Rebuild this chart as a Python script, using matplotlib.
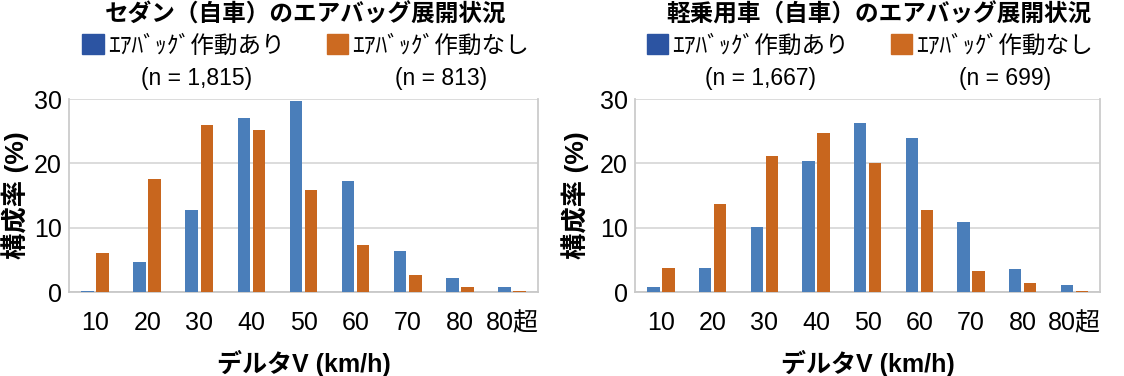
import matplotlib
matplotlib.use("Agg")
import matplotlib.pyplot as plt
import numpy as np

plt.rcParams['font.family'] = ['Liberation Sans', 'Noto Sans CJK JP']

# 区分（デルタV）
kategoriler = ['10', '20', '30', '40', '50', '60', '70', '80', '80超']

# セダン（自車）
sedan_ari = [0.2, 4.6, 12.8, 27.1, 29.7, 17.2, 6.4, 2.1, 0.8]
sedan_nashi = [6.1, 17.5, 25.9, 25.2, 15.8, 7.3, 2.6, 0.7, 0.2]
sedan_n = ['1,815', '813']

# 軽乗用車（自車）
kei_ari = [0.7, 3.8, 10.1, 20.4, 26.2, 24.0, 10.9, 3.5, 1.15]
kei_nashi = [3.7, 13.7, 21.2, 24.7, 20.0, 12.8, 3.3, 1.4, 0.2]
kei_n = ['1,667', '699']

basliklar = ['セダン（自車）のエアバッグ展開状況', '軽乗用車（自車）のエアバッグ展開状況']
etiketler = ['ｴｱﾊﾞｯｸﾞ作動あり', 'ｴｱﾊﾞｯｸﾞ作動なし']

mavi = '#4a7eba'
turuncu = '#c8661e'
mavi_leg = '#2c54a2'
turuncu_leg = '#cc6a21'

fig = plt.figure(figsize=(11.24, 3.76), dpi=100)
ax1 = fig.add_axes([0.0614, 0.2234, 0.4173, 0.5133])
ax2 = fig.add_axes([0.565, 0.2234, 0.4137, 0.5133])

veri = [(ax1, sedan_ari, sedan_nashi, sedan_n, basliklar[0], -0.085, 0.505),
        (ax2, kei_ari, kei_nashi, kei_n, basliklar[1], -0.099, 0.525)]

x = np.arange(len(kategoriler))
w = 0.24
lejantlar = []
for ax, ari, nashi, n, baslik, ylx, tx in veri:
    ax.bar(x - 0.145, ari, w, color=mavi, zorder=3)
    ax.bar(x + 0.145, nashi, w, color=turuncu, zorder=3)
    ax.set_xlim(-0.5, 8.5)
    ax.set_ylim(0, 30)
    ax.set_yticks([0, 10, 20, 30])
    ax.set_xticks(x)
    ax.set_xticklabels(kategoriler)
    ax.tick_params(axis='y', labelsize=18, length=0, pad=5)
    ax.tick_params(axis='x', labelsize=18, length=0, pad=14)
    ax.grid(axis='y', color='#d9d9d9', lw=1.3, zorder=0)
    for s in ['left', 'right']:
        ax.spines[s].set_color('#cccccc')
        ax.spines[s].set_linewidth(1.3)
    ax.spines['top'].set_visible(False)
    ax.spines['bottom'].set_color('#c8c8c8')
    ax.spines['bottom'].set_linewidth(1.3)
    ax.set_ylabel('構成率 (%)', fontsize=19, fontweight='bold')
    ax.yaxis.set_label_coords(ylx, 0.5)
    ax.set_xlabel('デルタV (km/h)', fontsize=18, fontweight='bold')
    ax.xaxis.set_label_coords(0.5, -0.30)
    ax.text(tx, 1.435, baslik, transform=ax.transAxes, fontsize=17,
            fontweight='bold', ha='center', va='center')

    h1 = plt.Rectangle((0, 0), 1, 1, color=mavi_leg)
    h2 = plt.Rectangle((0, 0), 1, 1, color=turuncu_leg)
    leg = ax.legend([h1, h2], etiketler, ncol=2, loc='center',
                    bbox_to_anchor=(0.505, 1.275), frameon=False, fontsize=17,
                    handlelength=0.9, handleheight=0.9, handletextpad=0.2,
                    columnspacing=1.75, borderaxespad=0, borderpad=0)
    lejantlar.append((ax, leg, n))

# (n = ...) の行をラベルの下に中央揃え
fig.canvas.draw()
for ax, leg, n in lejantlar:
    for t, sayi in zip(leg.get_texts(), n):
        bb = t.get_window_extent()
        cx = ax.transAxes.inverted().transform(((bb.x0 + bb.x1) / 2, 0))[0]
        ax.text(cx, 1.105, '(n = %s)' % sayi, transform=ax.transAxes,
                fontsize=16.5, ha='center', va='center')

fig.savefig('out.png', dpi=100)
